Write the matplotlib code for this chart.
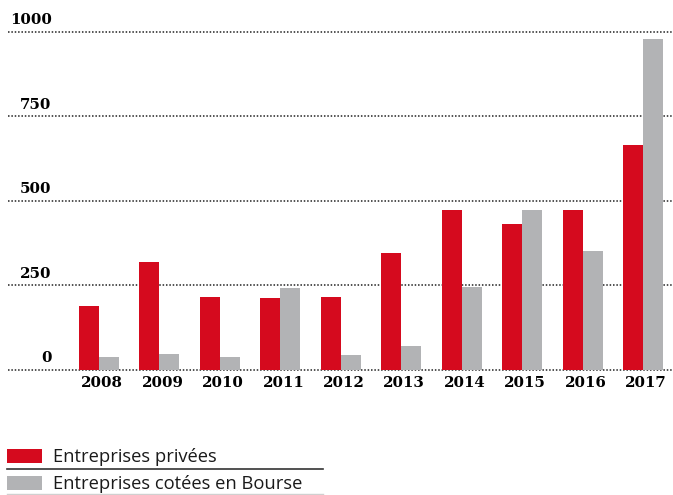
import matplotlib
matplotlib.use("Agg")
import matplotlib.pyplot as plt
from matplotlib.patches import Rectangle
from matplotlib.lines import Line2D
import matplotlib.transforms as mtransforms
import numpy as np

years = ["2008", "2009", "2010", "2011", "2012", "2013", "2014", "2015", "2016", "2017"]
privees = [189, 319, 216, 213, 216, 346, 473, 431, 473, 665]
cotees = [38, 47, 38, 242, 44, 71, 246, 473, 352, 978]
yticks = [0, 250, 500, 750, 1000]
series_labels = ["Entreprises privées", "Entreprises cotées en Bourse"]

RED = "#D50A1E"
GRAY = "#B2B3B5"

W, H = 673, 495
fig = plt.figure(figsize=(W / 100, H / 100), dpi=100)

# axes: left px 8 -> right 673, y px 31.5 (1000) -> 370 (0)
ax = fig.add_axes([8 / W, (H - 370) / H, (673 - 8) / W, (370 - 31.5) / H])
spacing = 60.44
x = np.arange(len(years))
ax.set_xlim((8 - 99) / spacing, (673 - 99) / spacing)
ax.set_ylim(0, 1000)
bw = 20 / spacing

ax.bar(x - bw / 2, privees, width=bw, color=RED, zorder=3, clip_on=False)
ax.bar(x + bw / 2, cotees, width=bw, color=GRAY, zorder=3, clip_on=False)

for v in yticks:
    ax.axhline(v, color="#222222", lw=1.1, ls=(0, (1, 1.2)), zorder=1, clip_on=False)

for s in ax.spines.values():
    s.set_visible(False)
ax.set_yticks([])
ax.set_xticks(x)
ax.set_xticklabels(years, fontfamily="DejaVu Serif", fontweight="bold", fontsize=10.8)
ax.tick_params(axis="x", length=0, pad=4)
off = mtransforms.ScaledTranslation(3 / 100, 0, fig.dpi_scale_trans)
for lab in ax.get_xticklabels():
    lab.set_transform(lab.get_transform() + off)

trans = mtransforms.blended_transform_factory(fig.transFigure, ax.transData)
for v in yticks:
    ax.annotate(str(v), xy=(51.5 / W, v), xycoords=trans, xytext=(0, 5.4),
                textcoords="offset points", ha="right", va="baseline",
                fontfamily="DejaVu Serif", fontweight="bold", fontsize=10.8)

# legend
def fy(py):
    return (H - py) / H

fig.add_artist(Rectangle((7 / W, fy(463)), 35 / W, 14 / H, transform=fig.transFigure,
                         color=RED, lw=0))
fig.add_artist(Rectangle((7 / W, fy(489.5)), 35 / W, 13.5 / H, transform=fig.transFigure,
                         color=GRAY, lw=0))
fig.text(53 / W, fy(462.5), series_labels[0], fontfamily="Open Sans", fontsize=13.2,
         va="baseline", ha="left", color="#1a1a1a")
fig.text(53 / W, fy(489.3), series_labels[1], fontfamily="Open Sans", fontsize=13.2,
         va="baseline", ha="left", color="#1a1a1a")
fig.add_artist(Line2D([7 / W, 323 / W], [fy(469), fy(469)], transform=fig.transFigure,
                      color="#333333", lw=1.2))
fig.add_artist(Line2D([7 / W, 323 / W], [fy(493.5), fy(493.5)], transform=fig.transFigure,
                      color="#d0d0d0", lw=1.0))

fig.savefig("out.png", dpi=100)
